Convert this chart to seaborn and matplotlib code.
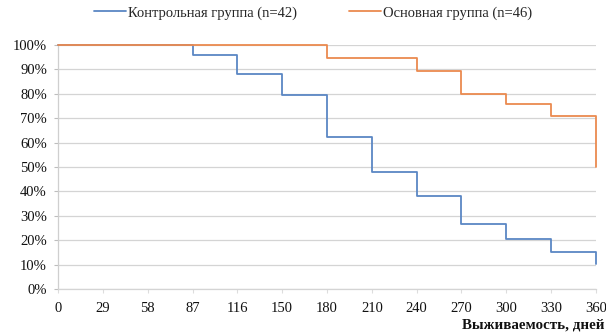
import numpy as np
import pandas as pd
import matplotlib
matplotlib.use('Agg')
import matplotlib.pyplot as plt
import seaborn as sns
from matplotlib.lines import Line2D

# ось X — дни наблюдения (категориальные подписи, равный шаг)
days = ['0', '29', '58', '87', '116', '150', '180', '210', '240', '270', '300', '330', '360']
control = [100, 100, 100, 95.8, 88.0, 79.5, 62.4, 48.1, 38.1, 26.5, 20.4, 15.0, 10.1]
main = [100, 100, 100, 100, 100, 100, 94.5, 94.5, 89.5, 79.8, 75.7, 70.9, 50.1]
groups = ['Контрольная группа (n=42)', 'Основная группа (n=46)']
colors = ['#5b87c4', '#eb8a4f']

df = pd.DataFrame({
    'pos': list(range(len(days))) * 2,
    'surv': [v / 100 for v in control + main],
    'group': [groups[0]] * len(days) + [groups[1]] * len(days),
})

sns.set_style('white')
plt.rcParams['font.family'] = ['Liberation Serif', 'DejaVu Serif']

fig = plt.figure(figsize=(6.06, 3.34), dpi=100)
ax = fig.add_axes([58/606, 1-289/334, (596-58)/606, (289-45)/334])

sns.lineplot(data=df, x='pos', y='surv', hue='group', palette=colors,
             drawstyle='steps-post', linewidth=1.3, ax=ax, legend=False,
             clip_on=False, zorder=3)

ax.set_xlim(0, len(days) - 1)
ax.set_ylim(0, 1)
ax.set_xticks(range(len(days)))
ax.set_xticklabels(days)
ax.set_yticks(np.arange(0, 1.01, 0.1))
ax.set_yticklabels([f'{int(round(t*100))}%' for t in np.arange(0, 1.01, 0.1)])
ax.set_xlabel('')
ax.set_ylabel('')

ax.yaxis.grid(True, color='#d4d4d4', linewidth=0.9)
ax.xaxis.grid(False)
for s in ['top', 'right']:
    ax.spines[s].set_visible(False)
ax.spines['left'].set_color('#cfcfcf')
ax.spines['bottom'].set_color('#d4d4d4')
ax.spines['left'].set_linewidth(0.9)
ax.spines['bottom'].set_linewidth(0.9)

ax.tick_params(axis='y', left=True, length=3, width=0.8, color='#bdbdbd',
               pad=5, labelsize=10.5, labelcolor='#111111')
ax.tick_params(axis='x', bottom=True, length=3, width=0.8, color='#dddddd',
               pad=6, labelsize=10.5, labelcolor='#111111')

handles = [Line2D([0], [0], color=c, linewidth=1.3) for c in colors]
fig.legend(handles, groups, loc='center', bbox_to_anchor=(313/606, 1-13/334),
           ncol=2, frameon=False, fontsize=10.5, handlelength=2.2,
           handletextpad=0.1, columnspacing=3.6)

fig.text(0.998, 1-325/334, 'Выживаемость, дней', ha='right', va='center',
         fontsize=10.8, fontweight='bold', color='#111111')

fig.savefig('out.png', dpi=100)
